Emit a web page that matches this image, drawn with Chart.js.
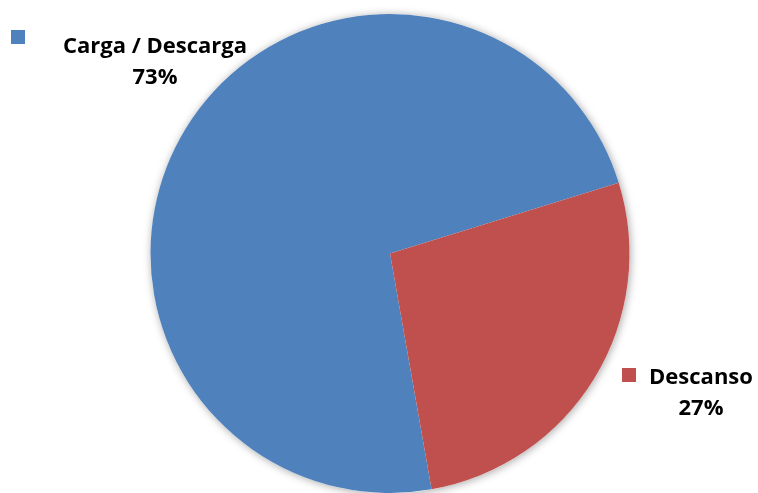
<!DOCTYPE html>
<html>
<head>
<meta charset="utf-8">
<script src="https://cdn.jsdelivr.net/npm/chart.js@4/dist/chart.umd.min.js"></script>
<style>
    html, body { margin: 0; padding: 0; background: #ffffff; }
    #contenedor { width: 758px; height: 493px; }
</style>
</head>
<body>
<div id="contenedor"><canvas id="canvasPie"></canvas></div>
<script>
"use strict";

// ============================================================
// DATOS DEL GRAFICO
// ============================================================
const categorias = ["Carga / Descarga", "Descanso"];
const valores = [73, 27];
const colores = ["#4F81BD", "#C0504D"];

// ============================================================
// Plugin: sombra suave detrás del círculo
// ============================================================
const sombraPie = {
    id: "sombraPie",
    beforeDatasetsDraw(chart) {
        let arco = chart.getDatasetMeta(0).data[0];
        if (!arco) return;
        let ctx = chart.ctx;
        ctx.save();
        ctx.beginPath();
        ctx.arc(arco.x, arco.y, arco.outerRadius, 0, Math.PI * 2);
        ctx.fillStyle = "#ffffff";
        ctx.shadowColor = "rgba(0, 0, 0, 0.35)";
        ctx.shadowBlur = 9;
        ctx.shadowOffsetX = 1;
        ctx.shadowOffsetY = 1;
        ctx.fill();
        ctx.restore();
    }
};

// ============================================================
// Plugin: etiquetas con cuadrito de color (nombre + porcentaje)
// ============================================================
const etiquetas = {
    id: "etiquetas",
    afterDatasetsDraw(chart) {
        let ctx = chart.ctx;
        let total = valores.reduce((a, b) => a + b, 0);
        // posición del centro del texto para cada categoría
        let pos = [
            { x: 155, y: 47, cx: 18, cy: 37 },
            { x: 701, y: 378, cx: 629, cy: 375 }
        ];
        ctx.save();
        ctx.font = "bold 22px 'Open Sans', sans-serif";
        ctx.textAlign = "center";
        ctx.textBaseline = "middle";
        for (let i = 0; i < categorias.length; i++) {
            let p = pos[i];
            ctx.fillStyle = colores[i];
            ctx.fillRect(p.cx - 7, p.cy - 7, 14, 14);
            ctx.fillStyle = "#000000";
            ctx.fillText(categorias[i], p.x, p.y);
            let pct = Math.round(valores[i] / total * 100) + "%";
            ctx.fillText(pct, p.x, p.y + 31);
        }
        ctx.restore();
    }
};

let graficoPie = new Chart(document.getElementById("canvasPie"), {
    type: "pie",
    data: {
        labels: categorias,
        datasets: [{
            data: valores,
            backgroundColor: colores,
            borderWidth: 0
        }]
    },
    options: {
        responsive: true,
        maintainAspectRatio: false,
        animation: false,
        rotation: 170,
        layout: { padding: { left: 150, right: 128, top: 14, bottom: 0 } },
        plugins: {
            legend: { display: false },
            tooltip: { enabled: false }
        }
    },
    plugins: [sombraPie, etiquetas]
});
</script>
</body>
</html>
